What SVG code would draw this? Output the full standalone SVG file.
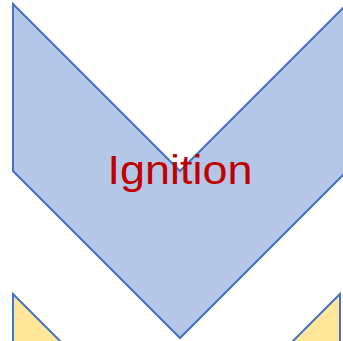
<svg xmlns="http://www.w3.org/2000/svg" width="343" height="341" viewBox="0 0 343 341">
<style>
.shape{stroke:#4472C4;stroke-width:2;stroke-linejoin:miter}
.label{font-family:"Liberation Sans","Open Sans",sans-serif;font-size:41px;fill:#C00000;text-anchor:middle}
</style>
<rect width="343" height="341" fill="#FFFFFF"/>
<g id="next">
<polygon class="shape" fill="#FFE699" points="13,294 176.5,457.5 340,294 340,461 176.5,624 13,461"/>
</g>
<g id="ignition">
<polygon class="shape" fill="#B4C7E7" points="13,4 180,171 347,4 347,171 180,338 13,171"/>
<text class="label" x="180" y="184" textLength="145" lengthAdjust="spacingAndGlyphs">Ignition</text>
</g>
<g id="connectors"/>
</svg>
